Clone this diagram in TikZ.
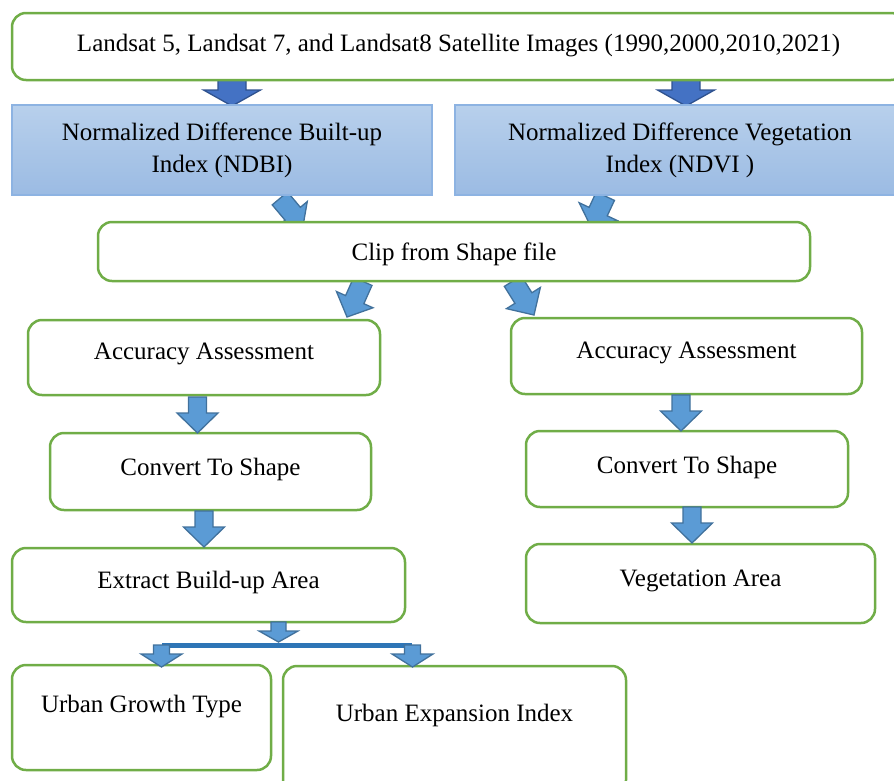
\documentclass[tikz,border=0pt]{standalone}
\usepackage{fontspec}
\setmainfont{Liberation Serif}
\definecolor{boxgreen}{HTML}{70AD47}
\definecolor{arrowfill}{HTML}{5B9BD5}
\definecolor{arrowline}{HTML}{41719C}
\definecolor{darkfill}{HTML}{4472C4}
\definecolor{darkline}{HTML}{2F528F}
\definecolor{barblue}{HTML}{2E75B6}
\definecolor{ndtop}{HTML}{B8D0EC}
\definecolor{ndbot}{HTML}{9BBBE3}
\definecolor{ndline}{HTML}{8DB3E2}

% style, tip, angle, length, shaft half width, head half width, head length
\newcommand{\blockarrow}[7]{%
  \begin{scope}[shift={#2},rotate=#3]
    \draw[#1] (0,0) -- (-#7,#6) -- (-#7,#5) -- (-#4,#5) -- (-#4,-#5)
      -- (-#7,-#5) -- (-#7,-#6) -- cycle;
  \end{scope}}

\begin{document}
\begin{tikzpicture}[x=1pt,y=-1pt,
    every node/.style={font=\fontsize{25}{32}\selectfont,align=center,inner sep=0pt},
    gbox/.style={draw=boxgreen,line width=2.5pt,rounded corners=14pt,fill=white,text depth=12pt},
    ibox/.style={draw=ndline,line width=1.2pt,top color=ndtop,bottom color=ndbot},
    larrow/.style={fill=arrowfill,draw=arrowline,line width=1.3pt},
    darrow/.style={fill=darkfill,draw=darkline,line width=1.3pt}]

  \useasboundingbox (0,0) rectangle (894,780);
  \clip (0,0) rectangle (894,780);

  \blockarrow{darrow}{(232,106)}{-90}{32}{14}{28.5}{16}
  \blockarrow{darrow}{(686,106)}{-90}{32}{14}{28.5}{16}
  \blockarrow{larrow}{(303,226)}{-50}{36}{10}{19}{16}
  \blockarrow{larrow}{(591,227)}{245}{34}{10}{21}{17}
  \blockarrow{larrow}{(347,317)}{246}{39}{10}{20}{19}
  \blockarrow{larrow}{(534,315)}{-58}{40}{10}{20}{20}

  \node[gbox,minimum width=893pt,minimum height=67pt,text depth=7pt] (images) at (458.5,46.5)
    {Landsat 5, Landsat 7, and Landsat8 Satellite Images (1990,2000,2010,2021)};
  \node[ibox,minimum width=420pt,minimum height=90pt] (ndbi) at (222,150)
    {Normalized Difference Built-up\\Index (NDBI)};
  \node[ibox,minimum width=450pt,minimum height=90pt] (ndvi) at (680,150)
    {Normalized Difference Vegetation\\Index (NDVI )};
  \node[gbox,minimum width=712pt,minimum height=59pt,text depth=0pt] (clip) at (454,251.5)
    {Clip from Shape file};
  \node[gbox,minimum width=352pt,minimum height=75pt] (accl) at (204,357.5)
    {Accuracy Assessment};
  \node[gbox,minimum width=351pt,minimum height=76pt] (accr) at (686.5,356)
    {Accuracy Assessment};
  \node[gbox,minimum width=321pt,minimum height=77pt,text depth=9pt] (convl) at (210.5,471.5)
    {Convert To Shape};
  \node[gbox,minimum width=322pt,minimum height=76pt,text depth=9pt] (convr) at (687,469)
    {Convert To Shape};
  \node[gbox,minimum width=393pt,minimum height=74pt,text depth=11pt] (extract) at (208.5,585)
    {Extract Build-up Area};
  \node[gbox,minimum width=349pt,minimum height=79pt,text depth=11pt] (veg) at (700.5,583.5)
    {Vegetation Area};
  \node[gbox,minimum width=259pt,minimum height=105pt,text depth=27pt] (growth) at (141.5,717.5)
    {Urban Growth Type};
  \node[gbox,minimum width=343pt,minimum height=128pt,text depth=35pt] (expansion) at (454.5,730)
    {Urban Expansion Index};

  \blockarrow{larrow}{(197.5,433)}{-90}{36}{9}{20.5}{20}
  \blockarrow{larrow}{(681,431)}{-90}{36}{9}{20.5}{20}
  \blockarrow{larrow}{(204,547)}{-90}{36}{9}{20.5}{20}
  \blockarrow{larrow}{(692,543)}{-90}{36}{9}{20.5}{20}

  \blockarrow{larrow}{(278.5,642)}{-90}{20}{7.5}{19.5}{11}
  \coordinate (barl) at (162,645.5);
  \coordinate (barr) at (412,645.5);
  \draw[barblue,line width=5.5pt] (barl) -- (barr);
  \blockarrow{larrow}{(161.5,667)}{-90}{22}{8}{20.5}{13}
  \blockarrow{larrow}{(412.5,667)}{-90}{22}{8}{20.5}{13}

\end{tikzpicture}
\end{document}
